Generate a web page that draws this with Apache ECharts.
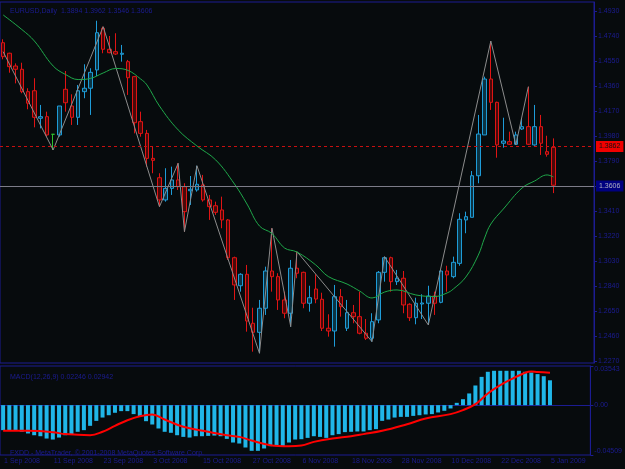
<!DOCTYPE html>
<html lang="en" style="height: 100%">

<head>
  <meta charset="UTF-8" />
  <title>EURUSD,Daily</title>
  <script src="https://cdn.jsdelivr.net/npm/echarts@6/dist/echarts.min.js"></script>
</head>

<body style="height: 100%; margin: 0; background: #070b0d">
  <div id="main" style="width: 625px; height: 469px"></div>
  <script type="text/javascript">
    // daily bars, 1 Sep 2008 .. 5 Jan 2009
    var opens = [1.4689, 1.4609, 1.4512, 1.4487, 1.4317, 1.4324, 1.4115, 1.4127, 1.3993, 1.3988,
      1.4335, 1.4208, 1.4122, 1.4317, 1.4343, 1.4482, 1.4799, 1.4639, 1.4621, 1.4601,
      1.4545, 1.4431, 1.4089, 1.4000, 1.3810, 1.3663, 1.3494, 1.3582, 1.3646, 1.3595,
      1.3564, 1.3570, 1.3608, 1.3494, 1.3450, 1.3418, 1.3342, 1.3055, 1.2842, 1.2929,
      1.2557, 1.2488, 1.2671, 1.2954, 1.2911, 1.2734, 1.2633, 1.2975, 1.2944, 1.2709,
      1.2817, 1.2739, 1.2519, 1.2498, 1.2759, 1.2519, 1.2637, 1.2607, 1.2481, 1.2443,
      1.2582, 1.2944, 1.3055, 1.2873, 1.2899, 1.2701, 1.2599, 1.2703, 1.2709, 1.2764,
      1.2716, 1.2954, 1.2911, 1.3012, 1.3342, 1.3362, 1.3678, 1.3988, 1.4413, 1.4236,
      1.3925, 1.3937, 1.3917, 1.4033, 1.4051, 1.3912, 1.4051, 1.3861, 1.3894];
    var highs = [1.4715, 1.4613, 1.4532, 1.4537, 1.4343, 1.4419, 1.4216, 1.4165, 1.3993, 1.4208,
      1.4474, 1.4297, 1.4368, 1.4525, 1.4495, 1.4856, 1.4811, 1.4740, 1.4761, 1.4672,
      1.4558, 1.4436, 1.4165, 1.4026, 1.3899, 1.3697, 1.3735, 1.3747, 1.3773, 1.3621,
      1.3676, 1.3754, 1.3684, 1.3532, 1.3481, 1.3519, 1.3349, 1.3063, 1.2937, 1.3000,
      1.2675, 1.2734, 1.2987, 1.3279, 1.2937, 1.2797, 1.3038, 1.3101, 1.2949, 1.2842,
      1.2929, 1.2789, 1.2625, 1.2848, 1.2817, 1.2734, 1.2696, 1.2797, 1.2589, 1.2633,
      1.2954, 1.3063, 1.3063, 1.2962, 1.2954, 1.2709, 1.2751, 1.2777, 1.2842, 1.2797,
      1.2962, 1.2994, 1.3063, 1.3393, 1.3405, 1.3714, 1.4140, 1.4431, 1.4702, 1.4241,
      1.4119, 1.4013, 1.4013, 1.4115, 1.4355, 1.4216, 1.4140, 1.3982, 1.3962];
    var lows = [1.4563, 1.4461, 1.4380, 1.4305, 1.4183, 1.4046, 1.4038, 1.3975, 1.3874, 1.3975,
      1.4165, 1.4064, 1.4064, 1.4267, 1.4140, 1.4436, 1.4609, 1.4609, 1.4596, 1.4545,
      1.4292, 1.4000, 1.3975, 1.3747, 1.3697, 1.3443, 1.3481, 1.3532, 1.3570, 1.3253,
      1.3456, 1.3557, 1.3481, 1.3342, 1.3380, 1.3279, 1.3038, 1.2734, 1.2797, 1.2493,
      1.2341, 1.2329, 1.2620, 1.2797, 1.2658, 1.2595, 1.2531, 1.2899, 1.2671, 1.2645,
      1.2709, 1.2498, 1.2455, 1.2379, 1.2607, 1.2498, 1.2557, 1.2473, 1.2430, 1.2417,
      1.2557, 1.2873, 1.2797, 1.2848, 1.2633, 1.2574, 1.2549, 1.2589, 1.2544, 1.2620,
      1.2709, 1.2797, 1.2899, 1.2994, 1.3241, 1.3362, 1.3621, 1.3988, 1.4178, 1.3815,
      1.3891, 1.3912, 1.3912, 1.4026, 1.3912, 1.3906, 1.3836, 1.3823, 1.3546];
    var closes = [1.4583, 1.4507, 1.4487, 1.4317, 1.4229, 1.4122, 1.4127, 1.3988, 1.3993, 1.4208,
      1.4233, 1.4122, 1.4324, 1.4343, 1.4464, 1.4765, 1.4639, 1.4613, 1.4603, 1.4609,
      1.4423, 1.4081, 1.4000, 1.3810, 1.3795, 1.3494, 1.3582, 1.3646, 1.3595, 1.3405,
      1.3575, 1.3613, 1.3494, 1.3443, 1.3400, 1.3342, 1.3055, 1.2848, 1.2929, 1.2574,
      1.2488, 1.2671, 1.2954, 1.2911, 1.2734, 1.2633, 1.2975, 1.2937, 1.2709, 1.2751,
      1.2741, 1.2519, 1.2498, 1.2759, 1.2683, 1.2637, 1.2607, 1.2481, 1.2443, 1.2569,
      1.2944, 1.3055, 1.2873, 1.2899, 1.2696, 1.2599, 1.2709, 1.2711, 1.2764, 1.2709,
      1.2954, 1.2924, 1.3020, 1.3347, 1.3367, 1.3678, 1.3995, 1.4413, 1.4236, 1.3912,
      1.3942, 1.3917, 1.3988, 1.4051, 1.3917, 1.4051, 1.3925, 1.3841, 1.3606];

    // moving average, read at some bars [bar, price]
    var maLine = [[0, 1.4900], [3, 1.4789], [5, 1.4702], [8, 1.4512], [10, 1.4447], [12, 1.4409],
      [14, 1.4418], [16, 1.4459], [18, 1.4493], [20, 1.4478], [22, 1.4413], [23, 1.4368],
      [25, 1.4208], [28, 1.4026], [31, 1.3904], [34, 1.3798], [37, 1.3615], [39, 1.3463],
      [41, 1.3296], [43, 1.3239], [45, 1.3129], [47, 1.3098], [50, 1.3000], [52, 1.2912],
      [55, 1.2855], [57, 1.2802], [59, 1.2749], [61, 1.2794], [63, 1.2810], [66, 1.2772],
      [69, 1.2760], [71, 1.2787], [72, 1.2817], [74, 1.2908], [76, 1.3075], [77, 1.3205],
      [78, 1.3311], [80, 1.3425], [83, 1.3585], [85, 1.3638], [87, 1.3684], [88, 1.3669]];

    // zigzag pivots [bar, price]
    var zigzag = [[0, 1.4621], [8, 1.3874], [16, 1.4811], [25, 1.3443], [28, 1.3773], [29, 1.3253],
      [31, 1.3754], [41, 1.2329], [43, 1.3279], [46, 1.2531], [47, 1.3101], [59, 1.2417],
      [61, 1.3063], [68, 1.2544], [78, 1.4702], [82, 1.3912], [84, 1.4355]];

    // MACD(12,26,9) histogram, one per bar
    var macdHist = [-0.0226, -0.0232, -0.0226, -0.0241, -0.0256, -0.0272, -0.0281, -0.0302, -0.0311, -0.0293,
      -0.0272, -0.0262, -0.0241, -0.0226, -0.0187, -0.0142, -0.0112, -0.0091, -0.0069, -0.0054,
      -0.0054, -0.0081, -0.0106, -0.0145, -0.0175, -0.0211, -0.0241, -0.0250, -0.0272, -0.0287,
      -0.0293, -0.0281, -0.0281, -0.0278, -0.0275, -0.0281, -0.0305, -0.0338, -0.0347, -0.0383,
      -0.0413, -0.0413, -0.0392, -0.0371, -0.0362, -0.0371, -0.0338, -0.0311, -0.0308, -0.0296,
      -0.0281, -0.0287, -0.0296, -0.0272, -0.0262, -0.0244, -0.0241, -0.0238, -0.0238, -0.0226,
      -0.0217, -0.0142, -0.0130, -0.0112, -0.0106, -0.0106, -0.0097, -0.0091, -0.0084, -0.0081,
      -0.0066, -0.0051, -0.0030, 0.0021, 0.0054, 0.0106, 0.0178, 0.0256, 0.0302, 0.0311,
      0.0311, 0.0311, 0.0311, 0.0311, 0.0302, 0.0296, 0.0281, 0.0262, 0.0225];
    // signal line [bar, value]
    var macdSignal = [[0, -0.0232], [4, -0.0232], [8, -0.0244], [10, -0.0262], [14, -0.0272], [16, -0.0241],
      [18, -0.0187], [20, -0.0136], [22, -0.0100], [24, -0.0084], [26, -0.0130], [29, -0.0196],
      [33, -0.0241], [36, -0.0272], [38, -0.0287], [40, -0.0320], [43, -0.0362], [46, -0.0371],
      [48, -0.0365], [50, -0.0332], [53, -0.0302], [56, -0.0281], [58, -0.0262], [61, -0.0232],
      [65, -0.0172], [68, -0.0121], [72, -0.0081], [74, -0.0045], [76, 0.0009], [78, 0.0106],
      [80, 0.0181], [82, 0.0241], [84, 0.0293], [85, 0.0305], [86, 0.0300], [88, 0.0294]];

    var dateLabels = ['1 Sep 2008', '11 Sep 2008', '23 Sep 2008', '3 Oct 2008', '15 Oct 2008', '27 Oct 2008',
      '6 Nov 2008', '18 Nov 2008', '28 Nov 2008', '10 Dec 2008', '22 Dec 2008', '5 Jan 2009'];
    var priceTicks = [1.2270, 1.2460, 1.2650, 1.2840, 1.3030, 1.3220, 1.3410, 1.3600, 1.3790, 1.3980,
      1.4170, 1.4360, 1.4550, 1.4740, 1.4930];
    var macdTicks = [-0.04509, 0, 0.03543];
    var levelLine = 1.3862;
    var bidLine = 1.3606;

    var navy = '#1c1c92';
    var font = 'Liberation Sans, Arial, sans-serif';
    var slots = 95; // 89 bars + empty shift on the right
    var categories = [];
    for (var i = 0; i < slots; i++) categories.push(String(i));

    var candles = [];
    for (var i = 0; i < opens.length; i++) {
      var item = { value: [opens[i], closes[i], lows[i], highs[i]] };
      if (opens[i] === closes[i]) {
        item.itemStyle = { color: '#2ec02e', color0: '#2ec02e', borderColor: '#2ec02e', borderColor0: '#2ec02e' };
      }
      candles.push(item);
    }

    var everyEight = function (index) { return index % 8 === 0 && index < opens.length; };

    var myChart = echarts.init(document.getElementById('main'));

    var option = {
      backgroundColor: '#070b0d',
      animation: false,
      textStyle: { fontFamily: font },
      title: [
        { text: 'EURUSD,Daily  1.3894 1.3962 1.3546 1.3606', left: 5, top: 3, textStyle: { color: navy, fontSize: 7, fontWeight: 'normal', fontFamily: font } },
        { text: 'MACD(12,26,9) 0.02246 0.02942', left: 5, top: 369, textStyle: { color: navy, fontSize: 7, fontWeight: 'normal', fontFamily: font } },
        { text: 'FXDD - MetaTrader, © 2001-2008 MetaQuotes Software Corp.', left: 5, top: 445, textStyle: { color: navy, fontSize: 7, fontWeight: 'normal', fontFamily: font } }
      ],
      grid: [
        { left: 0, top: 2, width: 594, height: 361, show: true, borderColor: navy, borderWidth: 1, backgroundColor: 'transparent' },
        { left: 0, top: 366, width: 594, height: 89, show: true, borderColor: navy, borderWidth: 1, backgroundColor: 'transparent' }
      ],
      xAxis: [
        {
          type: 'category', gridIndex: 0, data: categories,
          axisLine: { show: false }, axisTick: { show: false }, axisLabel: { show: false }
        },
        {
          type: 'category', gridIndex: 1, data: categories,
          axisLine: { lineStyle: { color: navy } },
          axisTick: { alignWithLabel: true, interval: everyEight, length: 14, lineStyle: { color: navy } },
          axisLabel: {
            interval: everyEight, align: 'left', margin: 3, padding: [0, 0, 0, 1],
            color: navy, fontSize: 7, fontFamily: font,
            formatter: function (value) { return dateLabels[parseInt(value, 10) / 8] || ''; }
          }
        }
      ],
      yAxis: [
        {
          type: 'value', gridIndex: 0, position: 'right', min: 1.22548, max: 1.49984,
          splitLine: { show: false },
          axisLine: { show: true, lineStyle: { color: navy } },
          axisTick: { show: true, length: 3, customValues: priceTicks, lineStyle: { color: navy } },
          axisLabel: {
            customValues: priceTicks, margin: 4, color: navy, fontSize: 7, fontFamily: font,
            formatter: function (v) { return v.toFixed(4); }
          }
        },
        {
          type: 'value', gridIndex: 1, position: 'right', min: -0.04509, max: 0.03543,
          splitLine: { show: false },
          axisLine: { show: true, lineStyle: { color: navy } },
          axisTick: { show: true, length: 3, customValues: macdTicks, lineStyle: { color: navy } },
          axisLabel: {
            customValues: macdTicks, margin: 4, color: navy, fontSize: 7, fontFamily: font,
            verticalAlignMinLabel: 'bottom', verticalAlignMaxLabel: 'top',
            formatter: function (v) { return v === 0 ? '0.00' : v.toFixed(5); }
          }
        }
      ],
      series: [
        {
          type: 'candlestick', xAxisIndex: 0, yAxisIndex: 0, data: candles, barWidth: 4,
          itemStyle: { color: '#0b3444', color0: '#4a0909', borderColor: '#1e9cd8', borderColor0: '#e01414', borderWidth: 1 }
        },
        {
          name: 'ZigZag', type: 'line', xAxisIndex: 0, yAxisIndex: 0, data: zigzag,
          showSymbol: false, lineStyle: { color: '#8c8c8c', width: 1 },
          markLine: {
            silent: true, symbol: ['none', 'none'], animation: false,
            data: [
              {
                yAxis: levelLine, lineStyle: { color: '#c81010', type: [3, 3], width: 1 },
                label: { show: true, position: 'end', distance: 2, formatter: levelLine.toFixed(4), backgroundColor: '#f00000', color: '#111', fontSize: 7, fontFamily: font, padding: [2, 3] }
              },
              {
                yAxis: bidLine, lineStyle: { color: '#7c7c88', type: 'solid', width: 1 },
                label: { show: true, position: 'end', distance: 2, formatter: bidLine.toFixed(4), backgroundColor: '#000080', color: '#b0b0c0', fontSize: 7, fontFamily: font, padding: [2, 3] }
              }
            ]
          }
        },
        {
          name: 'MA', type: 'line', xAxisIndex: 0, yAxisIndex: 0, data: maLine, smooth: 0.4,
          showSymbol: false, lineStyle: { color: '#1fa84a', width: 1 }
        },
        {
          name: 'MACD', type: 'bar', xAxisIndex: 1, yAxisIndex: 1, data: macdHist, barWidth: 4,
          itemStyle: { color: '#20b6e8' }
        },
        {
          name: 'Signal', type: 'line', xAxisIndex: 1, yAxisIndex: 1, data: macdSignal, smooth: 0.4,
          showSymbol: false, lineStyle: { color: '#ff0000', width: 2 }
        }
      ]
    };

    myChart.setOption(option);
    window.addEventListener('resize', myChart.resize);
  </script>
</body>

</html>
